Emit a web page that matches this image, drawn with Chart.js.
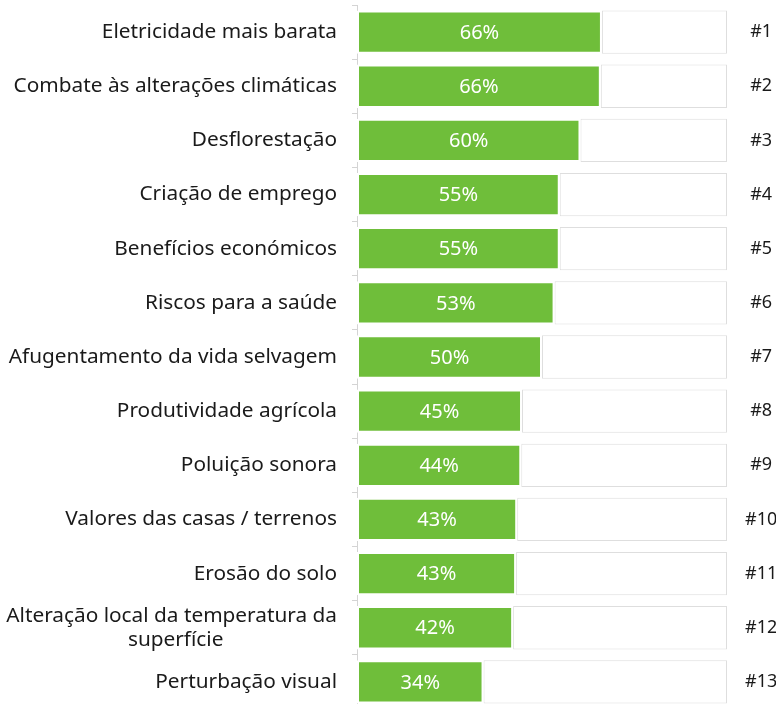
<!DOCTYPE html>
<html>
<head>
<meta charset="utf-8">
<script src="https://cdn.jsdelivr.net/npm/chart.js@4.4.1/dist/chart.umd.min.js"></script>
<style>
  html, body { margin: 0; padding: 0; background: #fff; overflow: hidden; }
  #wrap { width: 780px; height: 709px; position: relative; }
</style>
</head>
<body>
<div id="wrap"><canvas id="chart"></canvas></div>
<script>
// categories, top to bottom
const categories = [
  'Eletricidade mais barata',
  'Combate às alterações climáticas',
  'Desflorestação',
  'Criação de emprego',
  'Benefícios económicos',
  'Riscos para a saúde',
  'Afugentamento da vida selvagem',
  'Produtividade agrícola',
  'Poluição sonora',
  'Valores das casas / terrenos',
  'Erosão do solo',
  ['Alteração local da temperatura da', 'superfície'],
  'Perturbação visual'
];

// share of respondents, %
const values = [66.2, 65.9, 60.4, 54.8, 54.8, 53.4, 50.0, 44.6, 44.4, 43.3, 43.0, 42.2, 34.2];

const ranks = ['#1', '#2', '#3', '#4', '#5', '#6', '#7', '#8', '#9', '#10', '#11', '#12', '#13'];

const remainder = values.map(v => 100 - v);

const FONT = '"Noto Sans", "Open Sans", sans-serif';
const LABEL_SIZE = 20.8;
const GREEN = '#6fbe3a';

// the labels are right aligned, but a wrapped label has its lines centred
// on each other: pad the shorter lines with trailing spaces
function centreLines(label) {
  if (!Array.isArray(label)) return label;
  const ctx = document.createElement('canvas').getContext('2d');
  ctx.font = LABEL_SIZE + 'px ' + FONT;
  const widest = Math.max(...label.map(l => ctx.measureText(l).width));
  return label.map(l => {
    let s = l;
    while (ctx.measureText(s + ' ').width <= (widest + ctx.measureText(l).width) / 2) s += ' ';
    return s;
  });
}

// white percentage text in the middle of each green bar
const valueLabels = {
  id: 'valueLabels',
  afterDatasetsDraw(chart) {
    const ctx = chart.ctx;
    const meta = chart.getDatasetMeta(0);
    ctx.save();
    ctx.fillStyle = '#ffffff';
    ctx.font = '20px ' + FONT;
    ctx.textAlign = 'center';
    ctx.textBaseline = 'middle';
    meta.data.forEach((bar, i) => {
      const cx = (bar.base + bar.x) / 2;
      ctx.fillText(Math.round(values[i]) + '%', cx, bar.y + 1);
    });
    ctx.restore();
  }
};

// no extra label-overflow padding above/below the bars
function noPad(scale) {
  scale.paddingTop = 0;
  scale.paddingBottom = 0;
}

new Chart(document.getElementById('chart'), {
  type: 'bar',
  data: {
    labels: categories.map(centreLines),
    datasets: [
      {
        label: 'valor',
        data: values,
        backgroundColor: GREEN,
        borderColor: '#ffffff',
        borderWidth: 2,
        borderSkipped: false,
        barPercentage: 0.8,
        categoryPercentage: 1
      },
      {
        label: 'resto',
        data: remainder,
        backgroundColor: '#ffffff',
        borderColor: '#dedede',
        borderWidth: 1,
        borderSkipped: false,
        barPercentage: 0.8,
        categoryPercentage: 1
      }
    ]
  },
  options: {
    indexAxis: 'y',
    responsive: true,
    maintainAspectRatio: false,
    animation: false,
    layout: { padding: { top: 5, right: 4, bottom: 0, left: 0 } },
    plugins: {
      legend: { display: false },
      tooltip: { enabled: false }
    },
    scales: {
      x: {
        display: false,
        stacked: true,
        min: 0,
        max: 100
      },
      y: {
        stacked: true,
        grid: {
          drawOnChartArea: false,
          tickLength: 5,
          color: '#d4d4d4'
        },
        border: { color: '#d4d4d4' },
        ticks: {
          padding: 15,
          color: '#1a1a1a',
          font: { family: FONT, size: LABEL_SIZE, lineHeight: 1.15 }
        },
        afterFit(scale) {
          scale.width = 357;
          noPad(scale);
        }
      },
      y2: {
        type: 'category',
        labels: ranks,
        position: 'right',
        offset: true,
        grid: { display: false, drawTicks: false },
        border: { display: false },
        ticks: {
          crossAlign: 'center',
          padding: 18,
          color: '#1a1a1a',
          font: { family: FONT, size: 18 }
        },
        afterFit(scale) {
          scale.width = 49;
          noPad(scale);
        }
      }
    }
  },
  plugins: [valueLabels]
});
</script>
</body>
</html>
